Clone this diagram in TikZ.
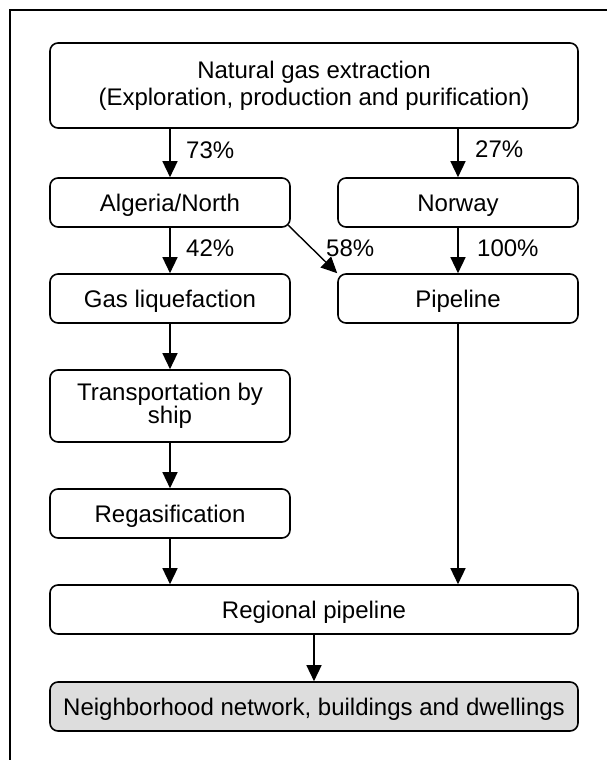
\documentclass[tikz,border=0pt]{standalone}
\usepackage{fontspec}
\setmainfont{Liberation Sans}
\usetikzlibrary{arrows.meta,calc}
\definecolor{boxgray}{RGB}{221,221,221}
\begin{document}
\begin{tikzpicture}[x=1pt,y=-1pt,
  box/.style={draw, line width=1.6pt, rounded corners=8pt, inner sep=0pt,
    align=center, font=\fontsize{24pt}{27pt}\selectfont},
  onebox/.style={box, text height=17.2pt, text depth=0pt},
  arr/.style={line width=1.4pt, -{Triangle[length=16pt,width=15pt]}},
  pct/.style={font=\fontsize{24pt}{27pt}\selectfont, inner sep=0pt, anchor=base west},
]
\useasboundingbox (0,0) rectangle (607,760);
\clip (0,0) rectangle (607,760);
% outer frame, running past the right and bottom edges
\draw[line width=1.6pt] (10,10) rectangle (650,800);

% process boxes
\node[box, minimum width=528pt, minimum height=85pt] (src) at (314,85.5)
  {Natural gas extraction\\(Exploration, production and purification)};
\node[onebox, minimum width=240pt, minimum height=49pt] (alg) at (170,202.5) {Algeria/North};
\node[onebox, minimum width=240pt, minimum height=49pt] (nor) at (458,202.5) {Norway};
\node[onebox, minimum width=240pt, minimum height=49pt] (liq) at (170,298.5) {Gas liquefaction};
\node[onebox, minimum width=240pt, minimum height=49pt] (pipe) at (458,298.5) {Pipeline};
\node[box, minimum width=240pt, minimum height=72pt, font=\fontsize{24pt}{21pt}\selectfont]
  (ship) at (170,406) {Transportation by\\ship};
\node[onebox, minimum width=240pt, minimum height=49pt] (regas) at (170,513.5) {Regasification};
\node[onebox, minimum width=528pt, minimum height=49pt] (reg) at (314,609.5) {Regional pipeline};
\node[onebox, fill=boxgray, minimum width=528pt, minimum height=49pt] (home) at (314,706.5)
  {Neighborhood network, buildings and dwellings};

% shares
\node[pct] (p73) at (186,158) {73\%};
\node[pct] (p27) at (475,157) {27\%};
\node[pct] (p42) at (186,256) {42\%};
\node[pct] (p58) at (326,256) {58\%};
\node[pct] (p100) at (477,256) {100\%};

% flows
\draw[arr] (src.south -| alg.north) -- (alg.north);
\draw[arr] (src.south -| nor.north) -- (nor.north);
\draw[arr] (alg.south) -- (liq.north);
\draw[arr] ($(alg.south east)+(-2.5,-2.5)$) -- (pipe.north west);
\draw[arr] (nor.south) -- (pipe.north);
\draw[arr] (liq.south) -- (ship.north);
\draw[arr] (ship.south) -- (regas.north);
\draw[arr] (regas.south) -- (reg.north -| regas.south);
\draw[arr] (pipe.south) -- (reg.north -| pipe.south);
\draw[arr] (reg.south) -- (home.north);
\end{tikzpicture}
\end{document}
